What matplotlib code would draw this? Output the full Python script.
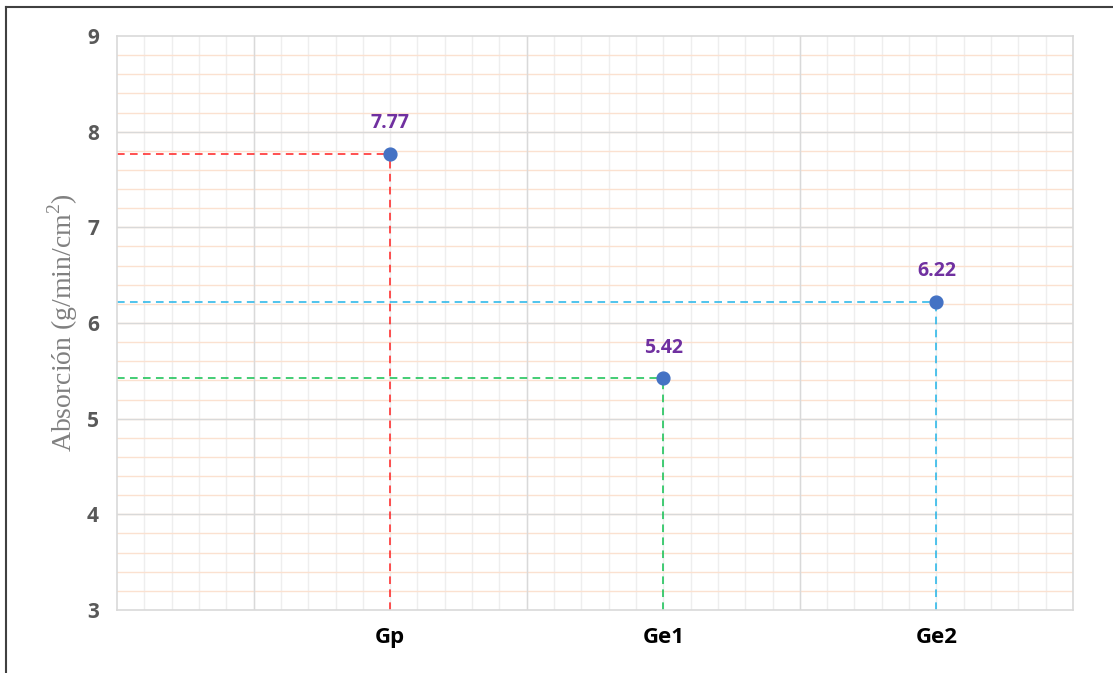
import numpy as np
import matplotlib.pyplot as plt
from matplotlib.lines import Line2D

# data
categories = ['Gp', 'Ge1', 'Ge2']
absorcion = [7.77, 5.42, 6.22]
labels = ['7.77', '5.42', '6.22']
guide_colors = ['#ff2020', '#10c050', '#20b4e8']

plt.rcParams['mathtext.fontset'] = 'custom'
plt.rcParams['mathtext.rm'] = 'Liberation Serif'

xpos = np.arange(1, len(categories) + 1)

fig = plt.figure(figsize=(11.13, 6.73), dpi=100)
ax = fig.add_axes([117/1113, 63/673, 956/1113, 574/673])
ax.set_xlim(0, 3.5)
ax.set_ylim(3, 9)

# grid: minor first, then major
for xv in np.arange(0.1, 3.5, 0.1):
    ax.axvline(xv, color='#eeeeee', lw=1, zorder=0)
for yv in np.arange(3.2, 9, 0.2):
    ax.axhline(yv, color='#fbe1d0', lw=1, zorder=0)
for xv in np.arange(0.5, 3.6, 1.0):
    ax.axvline(xv, color='#d9d9d9', lw=1, zorder=0.5)
for yv in np.arange(4, 9, 1):
    ax.axhline(yv, color='#d9d9d9', lw=1, zorder=0.5)

for s in ax.spines.values():
    s.set_color('#d9d9d9')
    s.set_linewidth(1.2)

# dashed guide lines
for x, y, c in zip(xpos, absorcion, guide_colors):
    ax.plot([0, x], [y, y], ls=(0, (5, 3.5)), color=c, lw=1.1, zorder=2)
    ax.plot([x, x], [3, y], ls=(0, (5, 3.5)), color=c, lw=1.1, zorder=2)

ax.scatter(xpos, absorcion, s=85, color='#4472c4', zorder=3)
for x, y, t in zip(xpos, absorcion, labels):
    ax.annotate(t, (x, y), xytext=(0, 22), textcoords='offset points',
                ha='center', va='center', fontsize=14, fontweight='bold',
                color='#7030a0', family='Open Sans')

ax.set_xticks(xpos)
ax.set_xticklabels(categories, fontsize=16, fontweight='bold', color='black', family='Open Sans')
ax.set_yticks(np.arange(3, 10, 1))
ax.set_yticklabels([str(v) for v in range(3, 10)], fontsize=15, fontweight='bold',
                   color='#595959', family='Open Sans')
ax.tick_params(axis='both', length=0)
ax.tick_params(axis='x', pad=12)
ax.tick_params(axis='y', pad=13)

ax.set_ylabel('Absorción (g/min/cm$^2$)', family='Liberation Serif', fontsize=20,
              color='#808080', labelpad=5)

# screenshot frame (left and top edges)
fig.add_artist(Line2D([6/1113, 6/1113], [0, 1 - 7/673], color='#404040', lw=1.5))
fig.add_artist(Line2D([6/1113, 1], [1 - 7/673, 1 - 7/673], color='#404040', lw=1.5))

fig.savefig('out.png', dpi=100)
